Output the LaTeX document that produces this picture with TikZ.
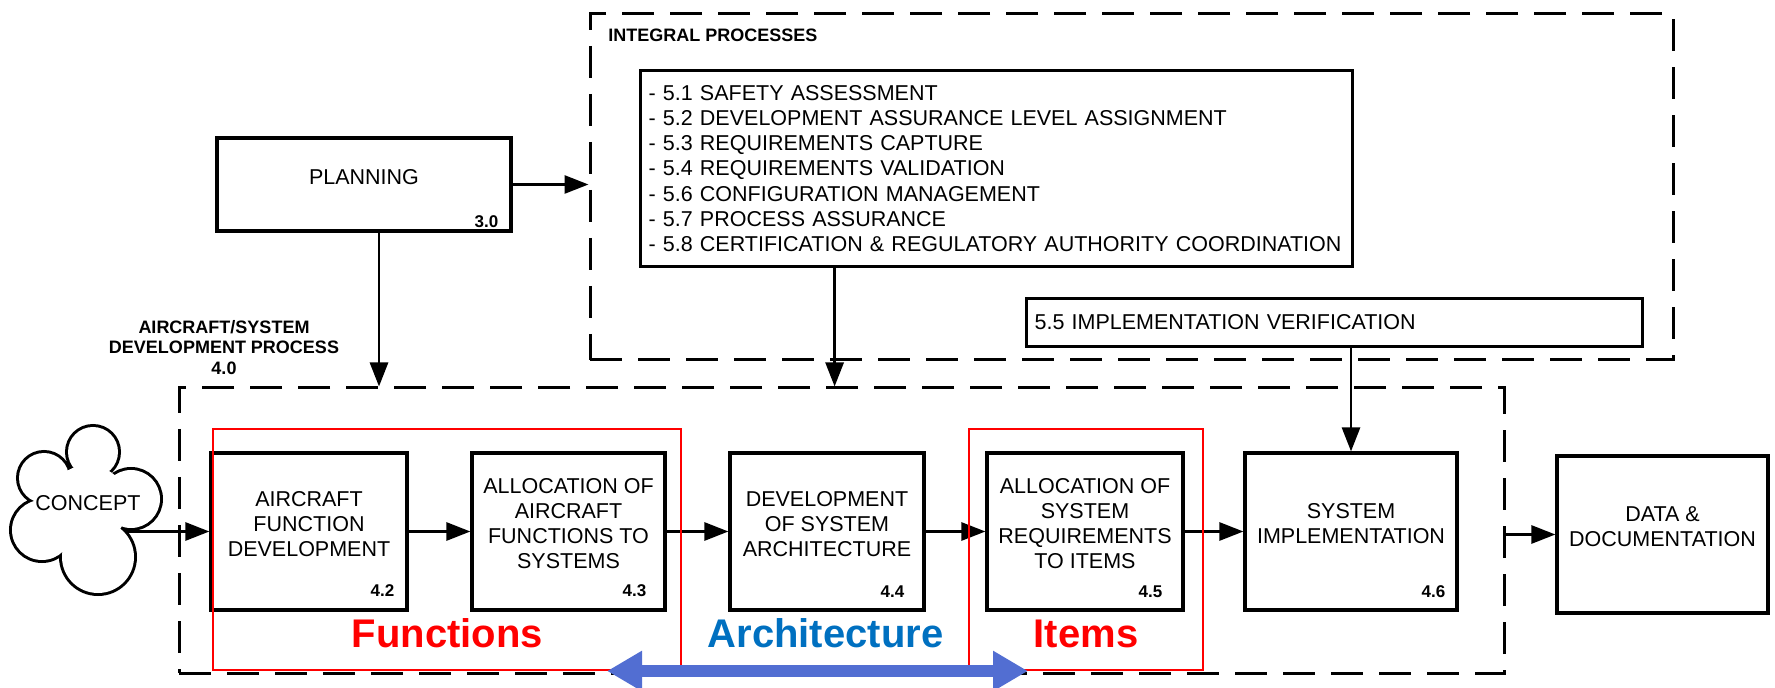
\documentclass[tikz,border=0pt]{standalone}
\usepackage{fontspec}
\setmainfont{Liberation Sans}
\usetikzlibrary{arrows.meta,fit,calc}
\pgfdeclarelayer{back}
\pgfdeclarelayer{mid}
\pgfsetlayers{back,mid,main}
\definecolor{archblue}{RGB}{0,112,192}
\definecolor{spanblue}{RGB}{82,110,210}
\definecolor{markred}{RGB}{255,0,0}

\begin{document}
\begin{tikzpicture}[x=0.5pt,y=-0.5pt,
  stepbox/.style={draw, line width=1.6pt, inner sep=0pt, align=center,
    font=\fontsize{10.75}{12.5}\selectfont},
  textbox/.style={draw, line width=1.6pt, inner sep=0pt, anchor=north west,
    font=\fontsize{10.75}{12.6}\selectfont},
  groupbox/.style={draw, line width=1.5pt, dash pattern=on 16pt off 8pt, inner sep=0pt},
  markbox/.style={draw=markred, line width=0.8pt, inner sep=0pt},
  arr/.style={line width=1.4pt, -{Triangle[length=12pt,width=9pt]}},
  num/.style={font=\bfseries\fontsize{8.5}{10}\selectfont, inner sep=0pt, anchor=east},
  head/.style={font=\bfseries\fontsize{9}{10.25}\selectfont, inner sep=0pt, align=center},
  tag/.style={font=\bfseries\fontsize{20}{24}\selectfont, inner sep=0pt, anchor=base},
]
\useasboundingbox (0,0) rectangle (1775,688);

% dashed process groups and their headings
\node[groupbox, fit={(590,14) (1673,360)}] (integral) {};
\node[groupbox, fit={(179,388) (1504,673)}] (dev) {};
\node[head, anchor=west] (inthead) at (608,35) {INTEGRAL PROCESSES};
\node[head] (devhead) at (224,347.5) {AIRCRAFT/SYSTEM\\DEVELOPMENT PROCESS\\4.0};

% planning
\node[stepbox, fit={(217,138) (511,231)}] (planning) {PLANNING};
\node[num] (n30) at ($(planning.south east)+(-14,-11)$) {3.0};

% integral processes
\node[textbox, minimum width=356pt, minimum height=98pt, text width=348pt]
  (list) at (639,69) {\raggedright
- 5.1 SAFETY ASSESSMENT\\
- 5.2 DEVELOPMENT ASSURANCE LEVEL ASSIGNMENT\\
- 5.3 REQUIREMENTS CAPTURE\\
- 5.4 REQUIREMENTS VALIDATION\\
- 5.6 CONFIGURATION MANAGEMENT\\
- 5.7 PROCESS ASSURANCE\\
- 5.8 CERTIFICATION \& REGULATORY AUTHORITY COORDINATION\par};
\node[textbox, minimum width=308pt, minimum height=24pt, text width=300pt]
  (ver) at (1025,297) {\raggedright 5.5 IMPLEMENTATION VERIFICATION\par};

% concept cloud: union of puffs, outlined by stroking then filling them
\node[inner sep=0pt, font=\fontsize{10.75}{12.5}\selectfont] (concept) at (88,503) {CONCEPT};
\begin{pgfonlayer}{mid}
  \draw[line width=3pt]
    (93,452) circle[radius=25] (131,499) circle[radius=29]
    (98,557) circle[radius=36] (42,530) circle[radius=30]
    (44,478) circle[radius=25];
  \fill[white]
    (93,452) circle[radius=25] (131,499) circle[radius=29]
    (98,557) circle[radius=36] (42,530) circle[radius=30]
    (44,478) circle[radius=25] (88,505) circle[radius=40];
\end{pgfonlayer}

% development steps
\node[stepbox, fit={(211,453) (407,610)}] (b42) {AIRCRAFT\\FUNCTION\\DEVELOPMENT};
\node[stepbox, fit={(472,453) (665,610)}] (b43) {ALLOCATION OF\\AIRCRAFT\\FUNCTIONS TO\\SYSTEMS};
\node[stepbox, fit={(730,453) (924,610)}] (b44) {DEVELOPMENT\\OF SYSTEM\\ARCHITECTURE};
\node[stepbox, fit={(987,453) (1183,610)}] (b45) {ALLOCATION OF\\SYSTEM\\REQUIREMENTS\\TO ITEMS};
\node[stepbox, fit={(1245,453) (1457,610)}] (b46) {SYSTEM\\IMPLEMENTATION};
\node[stepbox, fit={(1557,456) (1768,613)}] (data) {DATA \&\\DOCUMENTATION};

\node[num] (n42) at ($(b42.south east)+(-14,-21)$) {4.2};
\node[num] (n43) at ($(b43.south east)+(-20,-21)$) {4.3};
\node[num] (n44) at ($(b44.south east)+(-21,-20)$) {4.4};
\node[num] (n45) at ($(b45.south east)+(-22,-20)$) {4.5};
\node[num] (n46) at ($(b46.south east)+(-13,-20)$) {4.6};

% connectors
\begin{pgfonlayer}{back}
  \draw[arr] (concept.center |- b42.west) -- (b42.west);
\end{pgfonlayer}
\draw[arr] (planning.east) -- (planning.east -| integral.west);
\draw[arr] ([xshift=7.5pt]planning.south) coordinate (pd) -- (pd |- dev.north);
\draw[arr] ([xshift=-81pt]list.south) coordinate (ld) -- (ld |- dev.north);
\draw[arr] (b46.north |- ver.south) -- (b46.north);
\draw[arr] (b42.east) -- (b43.west);
\draw[arr] (b43.east) -- (b44.west);
\draw[arr] (b44.east) -- (b45.west);
\draw[arr] (b45.east) -- (b46.west);
\draw[arr] (data.west -| dev.east) -- (data.west);

% highlighted groups
\node[markbox, fit={(213,429) (681,670)}] (fnframe) {};
\node[markbox, fit={(969,429) (1203,670)}] (itemframe) {};
\node[tag, text=markred] (fntag) at (447.5,647) {Functions};
\node[tag, text=archblue] (archtag) at (825.5,647) {Architecture};
\node[tag, text=markred] (itemtag) at (1086,647) {Items};

% span between functions and items
\coordinate (spanL) at (607,671);
\coordinate (spanR) at (1028,671);
\draw[spanblue, line width=6pt,
      {Triangle[length=17.5pt,width=19pt]}-{Triangle[length=17.5pt,width=19pt]}]
  (spanL) -- (spanR);
\end{tikzpicture}
\end{document}
